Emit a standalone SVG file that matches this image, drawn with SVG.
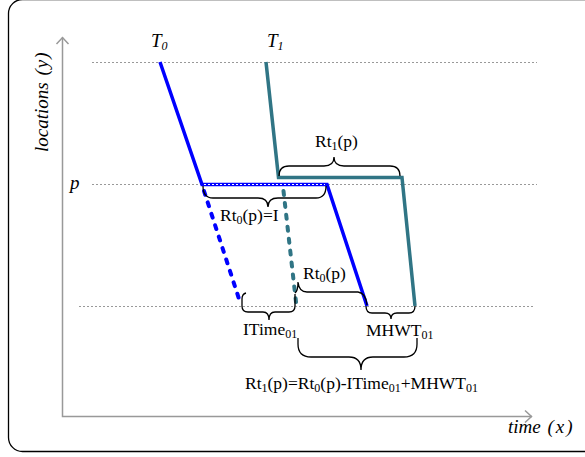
<svg xmlns="http://www.w3.org/2000/svg" width="585" height="457" viewBox="0 0 585 457">
<style>
.frame{fill:none;stroke:#000;stroke-width:1.3}
.axis{fill:none;stroke:#999;stroke-width:1.5}
.grid{fill:none;stroke:#999;stroke-width:1;stroke-dasharray:2 2}
.blue{fill:none;stroke:#0000ff;stroke-width:3.5}
.teal{fill:none;stroke:#307585;stroke-width:3.5}
.dash{stroke-dasharray:4 8;stroke-linecap:round;stroke-width:4}
.brace{fill:none;stroke:#000;stroke-width:1.3}
.it{font-family:"Liberation Serif",serif;font-style:italic;font-size:19px;fill:#000}
.lb{font-family:"Liberation Serif",serif;font-size:17.5px;fill:#000}
.s{font-size:12px}
</style>
<rect class="frame" x="8.5" y="-0.5" width="600" height="452" rx="14"/>
<g id="axes">
<polyline class="axis" points="62.5,37.5 62.5,416.5 532,416.5"/>
<polyline class="axis" points="56.5,44 62.5,37.5 68.5,44"/>
<polyline class="axis" points="525,410.5 531.5,416.5 525,422.5"/>
<line class="grid" x1="92" y1="62.5" x2="537" y2="62.5"/>
<line class="grid" x1="92" y1="184.5" x2="537" y2="184.5"/>
<line class="grid" x1="79" y1="306.5" x2="535" y2="306.5"/>
</g>
<g id="connectors">
<polyline class="blue" points="160,62 202,184.5 327,184.5 367,306"/>
<line x1="204" y1="184.5" x2="325" y2="184.5" stroke="#fff" stroke-width="1" stroke-dasharray="2 2"/>
<line class="blue dash" x1="204" y1="191" x2="240" y2="302"/>
<polyline class="teal" points="266,62 278.5,177.5 402,177.5 415,306"/>
<line class="teal dash" x1="283.5" y1="191" x2="296" y2="302"/>
</g>
<g id="braces">
<path class="brace" d="M279,176 Q279,166 289,166 L324,166 Q334,166 334,157 Q334,166 344,166 L390,166 Q400,166 400,176"/>
<path class="brace" d="M203,186 Q203,198 213,198 L258,198 Q268,198 268,207 Q268,198 278,198 L316,198 Q326,198 326,186"/>
<path class="brace" d="M246,293 Q242,294 242,299 L242,306 Q242,312 248,312 L263,312 Q269,312 269,320 Q269,312 275,312 L289,312 Q295,312 295,306 L295,294"/>
<path class="brace" d="M295,293 Q298,291 298,282 Q299,292 307,292 L358,292 Q366,293 367,305"/>
<path class="brace" d="M366,306 Q366,313 372,313 L385,313 Q391,313 391,319 Q391,313 397,313 L409,313 Q415,313 415,306"/>
<path class="brace" d="M298,338 L298,344 Q298,357 311,357 L349,357 Q361,357 361,370 Q361,357 373,357 L404,357 Q417,357 417,344 L417,338"/>
</g>
<g id="labels">
<text class="it" x="151" y="47">T<tspan class="s" dy="3">0</tspan></text>
<text class="it" x="267" y="47">T<tspan class="s" dy="3">1</tspan></text>
<text class="it" x="70" y="189">p</text>
<text class="it" transform="translate(48,152) rotate(-90)">locations <tspan dx="2">(</tspan><tspan dx="1">y</tspan><tspan dx="1">)</tspan></text>
<text class="it" x="508" y="433">time <tspan dx="2">(</tspan><tspan dx="2">x</tspan><tspan dx="2">)</tspan></text>
<text class="lb" x="315" y="147">Rt<tspan class="s" dy="3">1</tspan><tspan dy="-3">(p)</tspan></text>
<text class="lb" x="220" y="221">Rt<tspan class="s" dy="3">0</tspan><tspan dy="-3">(p)=I</tspan></text>
<text class="lb" x="303" y="279">Rt<tspan class="s" dy="3">0</tspan><tspan dy="-3">(p)</tspan></text>
<text class="lb" x="243" y="335">ITime<tspan class="s" dy="3">01</tspan></text>
<text class="lb" x="366" y="336">MHWT<tspan class="s" dy="3">01</tspan></text>
<text class="lb" x="245" y="389">Rt<tspan class="s" dy="3">1</tspan><tspan dy="-3">(p)=Rt</tspan><tspan class="s" dy="3">0</tspan><tspan dy="-3">(p)-ITime</tspan><tspan class="s" dy="3">01</tspan><tspan dy="-3">+MHWT</tspan><tspan class="s" dy="3">01</tspan></text>
</g>
</svg>
